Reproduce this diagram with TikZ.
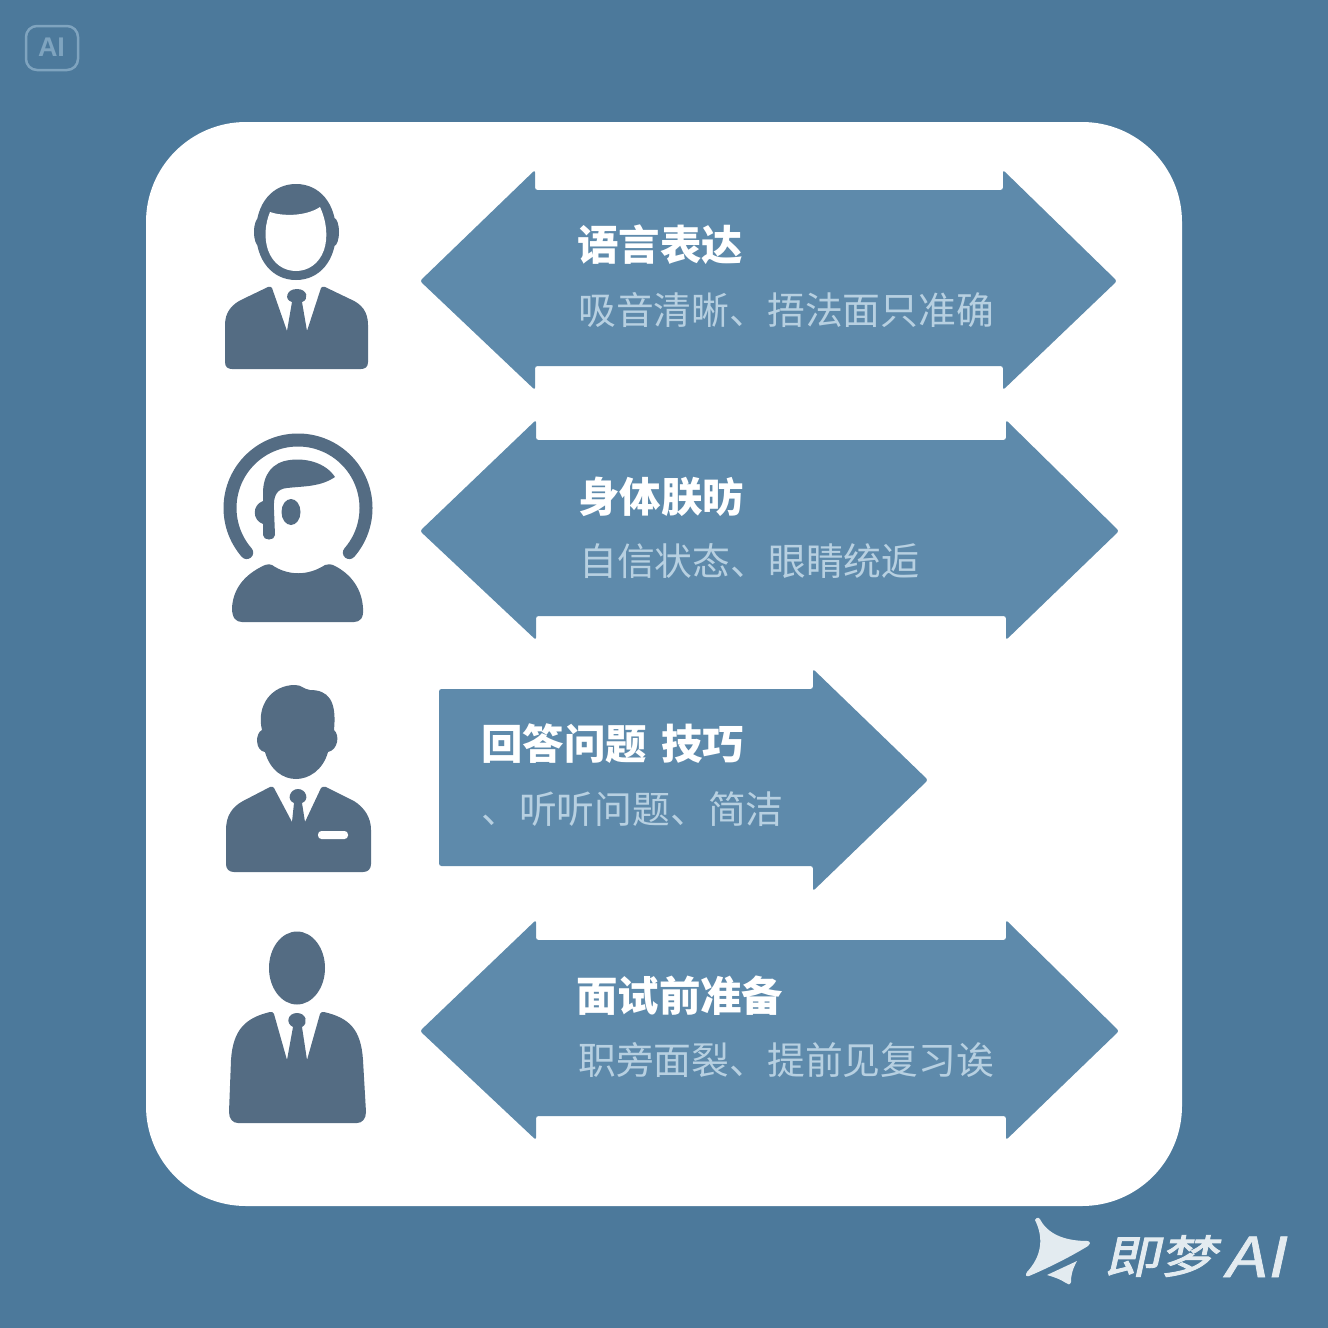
\documentclass[tikz,border=0pt]{standalone}
\usepackage{fontspec}
\usepackage{tikz}
\usetikzlibrary{positioning}
\newfontfamily\cjk{Noto Sans CJK SC}
\newfontfamily\cjklogo[FakeSlant=0.22,FakeBold=2,FakeStretch=1.25]{Noto Sans CJK SC}
\newfontfamily\ailogo[FakeSlant=0.22,FakeBold=1.5,FakeStretch=1.25]{Noto Sans CJK SC}
\newfontfamily\badgefont{Liberation Sans}
\definecolor{page}{HTML}{4C799B}
\definecolor{band}{HTML}{5E8AAB}
\definecolor{figure}{HTML}{546C83}
\definecolor{subtext}{HTML}{B7D0E1}
\definecolor{logo}{HTML}{E3EBF0}
\definecolor{badge}{HTML}{7FA4BF}
\tikzset{
  heading/.style={anchor=base west,inner sep=0pt,text=white,font=\cjk\bfseries\fontsize{41.4}{41}\selectfont},
  detail/.style={anchor=base west,inner sep=0pt,text=subtext,font=\cjk\fontsize{37.8}{38}\selectfont},
  band/.style={fill=band,rounded corners=2.5pt},
  logotype/.style={anchor=base west,inner sep=0pt,text=logo}
}
\begin{document}
\begin{tikzpicture}[x=1pt,y=-1pt]
  \useasboundingbox (0,0) rectangle (1328,1328);
  \fill[page] (0,0) rectangle (1328,1328);
  % card
  \fill[white,rounded corners=100pt] (146,122) rectangle (1182,1206);

  % double arrows
  \foreach \cy/\xa/\xb/\xc in
  {281/535/1003/1117,531/536/1006/1119,1031/536/1006/1119}
  {
    \fill[band] (420,\cy) -- (\xa,\cy-111) -- (\xa,\cy-91) -- (\xb,\cy-91)
    -- (\xb,\cy-111) -- (\xc,\cy) -- (\xb,\cy+109) -- (\xb,\cy+85)
    -- (\xa,\cy+85) -- (\xa,\cy+109) -- cycle;
  }
  % single arrow
  \fill[band] (439,689) -- (813,689) -- (813,669) -- (928,780) -- (813,891)
  -- (813,866) -- (439,866) -- cycle;

  % texts
  \foreach \id/\xa/\ya/\xb/\yb/\head/\body in
  {lang/577/260/578/324/语言表达/吸音清晰、捂法面只准确,
    body/578/512/579/575/身体朕昉/自信状态、眼睛统逅,
    answer/481/759/481/823/回答问题\hspace{5pt} 技巧/、听听问题、简洁,
    prep/576/1011/578/1074/面试前准备/职旁面裂、提前见复习诶}
  {
    \node[heading] (\id head) at (\xa,\ya) {\head};
    \node[detail] (\id text) at (\xb,\yb) {\body};
  }

  % first figure
  \fill[figure] (296,184) .. controls (320,184) and (336,204) .. (336,232)
  .. controls (336,260) and (320,280) .. (296,280)
  .. controls (272,280) and (256,260) .. (256,232)
  .. controls (256,204) and (272,184) .. (296,184) -- cycle;
  \fill[figure] (259,232) ellipse[x radius=5,y radius=14];
  \fill[figure] (334,232) ellipse[x radius=5,y radius=14];
  \fill[white] (270,212) .. controls (281,216) and (305,217) .. (320,207)
  .. controls (327,222) and (328,238) .. (324,250)
  .. controls (319,264) and (308,271) .. (296,271)
  .. controls (284,271) and (273,264) .. (268,250)
  .. controls (264,238) and (265,224) .. (270,212) -- cycle;
  \fill[figure] (225,362) -- (225,325) .. controls (225,312) and (232,304) .. (243,299)
  -- (268,287) .. controls (270,286) and (271,287) .. (272,288) -- (287,331) -- (292,302)
  .. controls (284,300) and (286,289) .. (297,289)
  .. controls (308,289) and (309,300) .. (302,302) -- (307,331) -- (321,288)
  .. controls (322,287) and (323,286) .. (325,287) -- (350,299)
  .. controls (362,304) and (368,312) .. (368,325) -- (368,362)
  .. controls (368,367) and (365,369) .. (361,369) -- (232,369)
  .. controls (228,369) and (225,367) .. (225,362) -- cycle;

  % second figure
  \draw[figure,line width=13pt,line cap=round] (246.7,552.6)
  arc[start angle=139,end angle=401,radius=68];
  \fill[figure] (263,535) .. controls (263,541) and (275,541) .. (275,535)
  -- (274,510) .. controls (273,495) and (277,489) .. (287,488)
  .. controls (305,486) and (320,487) .. (335,477)
  .. controls (325,462) and (305,458) .. (290,460)
  .. controls (272,462) and (263,475) .. (263,493) -- (263,501)
  .. controls (252,505) and (252,520) .. (263,524) -- cycle;
  \fill[figure] (291,512) ellipse[x radius=9.5,y radius=13];
  \fill[figure] (232,608) .. controls (233,590) and (243,575) .. (265,565)
  .. controls (268,564) and (270,564) .. (272,565)
  .. controls (288,576) and (308,576) .. (325,565)
  .. controls (328,564) and (331,564) .. (333,565)
  .. controls (352,574) and (362,590) .. (363,608)
  .. controls (364,618) and (360,622) .. (354,622) -- (242,622)
  .. controls (236,622) and (232,618) .. (232,608) -- cycle;

  % third figure
  \fill[figure] (296,779) .. controls (283,779) and (270,770) .. (265,752)
  .. controls (255,751) and (255,733) .. (262,730)
  .. controls (256,705) and (272,685) .. (295,685)
  .. controls (302,685) and (303,689) .. (310,690)
  .. controls (328,690) and (337,700) .. (334,730)
  .. controls (340,735) and (338,750) .. (328,752)
  .. controls (323,770) and (309,779) .. (296,779) -- cycle;
  \fill[figure] (226,830) .. controls (226,816) and (232,807) .. (243,801)
  -- (270,787) .. controls (272,786) and (273,787) .. (274,788) -- (292,822) -- (294,803)
  .. controls (286,800) and (290,789) .. (298,789)
  .. controls (306,789) and (310,800) .. (302,803) -- (305,822) -- (321,788)
  .. controls (322,787) and (324,786) .. (326,787) -- (354,801)
  .. controls (365,808) and (371,818) .. (371,830) -- (371,864)
  .. controls (371,869) and (368,872) .. (363,872) -- (234,872)
  .. controls (229,872) and (226,869) .. (226,864) -- cycle;
  \fill[white,rounded corners=3.5pt] (318,831) rectangle (348,839);

  % fourth figure
  \fill[figure] (297,968) ellipse[x radius=28,y radius=36.5];
  \fill[figure] (229,1112) -- (231,1060) .. controls (233,1030) and (245,1018) .. (270,1012)
  .. controls (272,1012) and (273,1012) .. (274,1014) -- (287,1060) -- (293,1027)
  .. controls (285,1023) and (288,1013) .. (297,1013)
  .. controls (306,1013) and (309,1023) .. (302,1027) -- (307,1060) -- (320,1014)
  .. controls (321,1012) and (322,1012) .. (324,1012)
  .. controls (350,1018) and (361,1030) .. (363,1060) -- (366,1112)
  .. controls (366,1119) and (362,1123) .. (357,1123) -- (238,1123)
  .. controls (233,1123) and (229,1119) .. (229,1112) -- cycle;

  % marks
  \draw[badge,line width=2.5pt,rounded corners=11pt] (26,26) rectangle (78,70);
  \node[text=badge,inner sep=0pt,font=\badgefont\bfseries\fontsize{27}{27}\selectfont] (badgeai) at (51.5,47.5) {AI};
  \fill[logo] (1035,1220) .. controls (1037,1216) and (1040,1218) .. (1041,1221)
  .. controls (1050,1236) and (1068,1241) .. (1088,1241)
  .. controls (1091,1242) and (1090,1245) .. (1088,1246)
  .. controls (1070,1257) and (1048,1268) .. (1029,1276)
  .. controls (1026,1277) and (1025,1275) .. (1027,1272)
  .. controls (1040,1258) and (1045,1240) .. (1035,1220) -- cycle;
  \fill[logo] (1077,1261) .. controls (1072,1270) and (1071,1276) .. (1071,1282)
  .. controls (1070,1285) and (1068,1285) .. (1066,1283)
  .. controls (1060,1279) and (1054,1277) .. (1047,1275) -- cycle;
  \node[logotype,font=\cjklogo\fontsize{45}{45}\selectfont] (logotext) at (1104,1273) {即梦};
  \node[logotype,font=\ailogo\fontsize{55}{55}\selectfont] (logoai) at (1223,1277) {AI};
\end{tikzpicture}
\end{document}
